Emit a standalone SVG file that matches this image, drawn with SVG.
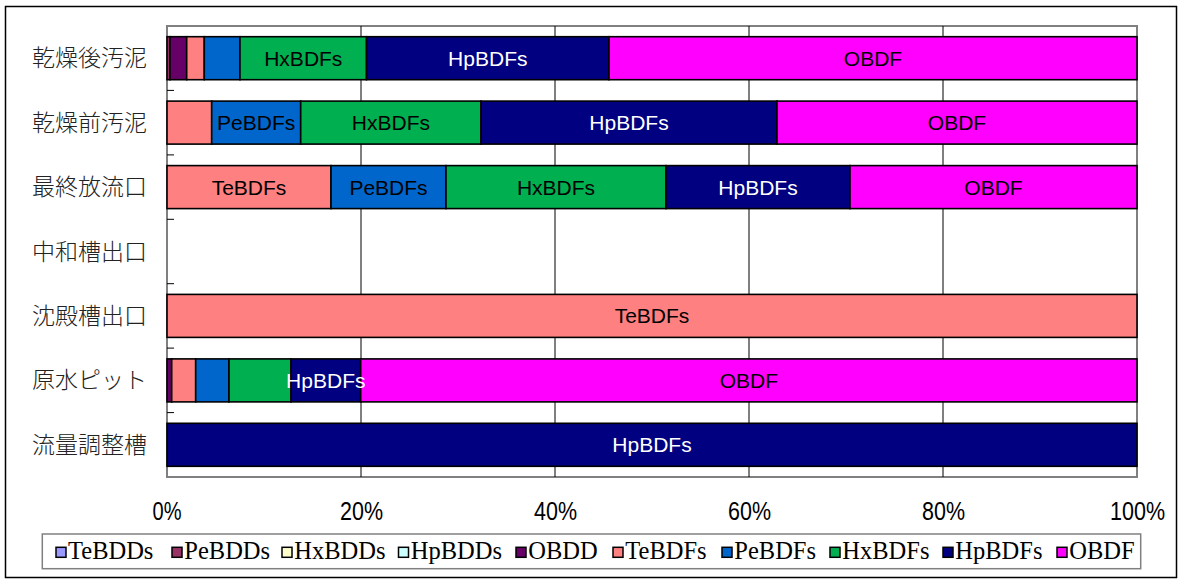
<svg xmlns="http://www.w3.org/2000/svg" width="1180" height="580" viewBox="0 0 1180 580">
  <style>
    .frame { fill: #ffffff; stroke: #000000; stroke-width: 1.5; }
    .plot { fill: #ffffff; stroke: #808080; stroke-width: 2; }
    .grid { stroke: #000000; stroke-width: 1; }
    .tick { stroke: #000000; stroke-width: 1; }
    .seg { stroke: #000000; stroke-width: 1.6; }
    .cat { font-family: "Noto Sans CJK JP", "Noto Sans", sans-serif; font-size: 23px; font-weight: 300; fill: #222222; text-anchor: end; }
    .lbl { font-family: "Liberation Sans", Arial, sans-serif; font-size: 21px; text-anchor: middle; fill: #000000; }
    .lbl.w { fill: #ffffff; }
    .axis { font-family: "Liberation Sans", Arial, sans-serif; font-size: 26px; text-anchor: middle; fill: #000000; }
    .legbox { fill: #ffffff; stroke: #808080; stroke-width: 1.5; }
    .legmark { stroke: #000000; stroke-width: 1.5; }
    .legtxt { font-family: "Liberation Serif", "Times New Roman", serif; font-size: 24.5px; fill: #000000; }
    .c-tebdd { fill: #9999FF; } .c-pebdd { fill: #993366; } .c-hxbdd { fill: #FFFFCC; }
    .c-hpbdd { fill: #CCFFFF; } .c-obdd { fill: #660066; } .c-tebdf { fill: #FF8080; }
    .c-pebdf { fill: #0066CC; } .c-hxbdf { fill: #00B050; } .c-hpbdf { fill: #000080; }
    .c-obdf { fill: #FF00FF; }
  </style>

  <!-- chart frame -->
  <rect class="frame" x="5.5" y="6.5" width="1171" height="571"/>

  <!-- plot area with gridlines -->
  <g id="plot-area">
    <rect class="plot" x="167" y="26" width="970" height="451"/>
    <line class="grid" x1="361" y1="26" x2="361" y2="477"/>
    <line class="grid" x1="555" y1="26" x2="555" y2="477"/>
    <line class="grid" x1="749" y1="26" x2="749" y2="477"/>
    <line class="grid" x1="943" y1="26" x2="943" y2="477"/>
    <line class="tick" x1="167" y1="90.4" x2="174" y2="90.4"/>
    <line class="tick" x1="167" y1="154.9" x2="174" y2="154.9"/>
    <line class="tick" x1="167" y1="219.3" x2="174" y2="219.3"/>
    <line class="tick" x1="167" y1="283.7" x2="174" y2="283.7"/>
    <line class="tick" x1="167" y1="348.1" x2="174" y2="348.1"/>
    <line class="tick" x1="167" y1="412.6" x2="174" y2="412.6"/>
  </g>

  <!-- category labels -->
  <g id="categories">
    <text class="cat" x="147" y="66.2">乾燥後汚泥</text>
    <text class="cat" x="147" y="130.6">乾燥前汚泥</text>
    <text class="cat" x="147" y="195.1">最終放流口</text>
    <text class="cat" x="147" y="259.5">中和槽出口</text>
    <text class="cat" x="147" y="323.9">沈殿槽出口</text>
    <text class="cat" x="147" y="388.4">原水ピット</text>
    <text class="cat" x="147" y="452.8">流量調整槽</text>
  </g>

  <!-- stacked bars -->
  <g id="bar-kansougo">
    <rect class="seg c-pebdd" x="167" y="36.7" width="3" height="43"/>
    <rect class="seg c-obdd" x="170" y="36.7" width="16.7" height="43"/>
    <rect class="seg c-tebdf" x="186.7" y="36.7" width="17.6" height="43"/>
    <rect class="seg c-pebdf" x="204.3" y="36.7" width="35.7" height="43"/>
    <rect class="seg c-hxbdf" x="240" y="36.7" width="126.5" height="43"/>
    <rect class="seg c-hpbdf" x="366.5" y="36.7" width="242.5" height="43"/>
    <rect class="seg c-obdf" x="609" y="36.7" width="528" height="43"/>
    <text class="lbl" x="303.3" y="65.7">HxBDFs</text>
    <text class="lbl w" x="487.8" y="65.7">HpBDFs</text>
    <text class="lbl" x="873" y="65.7">OBDF</text>
  </g>

  <g id="bar-kansouzen">
    <rect class="seg c-tebdf" x="167" y="101.1" width="44.7" height="43"/>
    <rect class="seg c-pebdf" x="211.7" y="101.1" width="89" height="43"/>
    <rect class="seg c-hxbdf" x="300.7" y="101.1" width="180.3" height="43"/>
    <rect class="seg c-hpbdf" x="481" y="101.1" width="296" height="43"/>
    <rect class="seg c-obdf" x="777" y="101.1" width="360" height="43"/>
    <text class="lbl" x="256.2" y="130.1">PeBDFs</text>
    <text class="lbl" x="390.9" y="130.1">HxBDFs</text>
    <text class="lbl w" x="629" y="130.1">HpBDFs</text>
    <text class="lbl" x="957" y="130.1">OBDF</text>
  </g>

  <g id="bar-saishu">
    <rect class="seg c-tebdf" x="167" y="165.6" width="164" height="43"/>
    <rect class="seg c-pebdf" x="331" y="165.6" width="115" height="43"/>
    <rect class="seg c-hxbdf" x="446" y="165.6" width="220" height="43"/>
    <rect class="seg c-hpbdf" x="666" y="165.6" width="184" height="43"/>
    <rect class="seg c-obdf" x="850" y="165.6" width="287" height="43"/>
    <text class="lbl" x="249" y="194.6">TeBDFs</text>
    <text class="lbl" x="388.5" y="194.6">PeBDFs</text>
    <text class="lbl" x="556" y="194.6">HxBDFs</text>
    <text class="lbl w" x="758" y="194.6">HpBDFs</text>
    <text class="lbl" x="993.5" y="194.6">OBDF</text>
  </g>

  <g id="bar-chuwa"></g>

  <g id="bar-chinden">
    <rect class="seg c-tebdf" x="167" y="294.4" width="970" height="43"/>
    <text class="lbl" x="652" y="323.4">TeBDFs</text>
  </g>

  <g id="bar-gensui">
    <rect class="seg c-obdd" x="167" y="358.9" width="4.7" height="43"/>
    <rect class="seg c-tebdf" x="171.7" y="358.9" width="24" height="43"/>
    <rect class="seg c-pebdf" x="195.7" y="358.9" width="33.3" height="43"/>
    <rect class="seg c-hxbdf" x="229" y="358.9" width="62" height="43"/>
    <rect class="seg c-hpbdf" x="291" y="358.9" width="69.7" height="43"/>
    <rect class="seg c-obdf" x="360.7" y="358.9" width="776.3" height="43"/>
    <text class="lbl w" x="325.8" y="387.9">HpBDFs</text>
    <text class="lbl" x="748.8" y="387.9">OBDF</text>
  </g>

  <g id="bar-ryuryo">
    <rect class="seg c-hpbdf" x="167" y="423.3" width="970" height="43"/>
    <text class="lbl w" x="652" y="452.3">HpBDFs</text>
  </g>

  <!-- value axis -->
  <g id="axis-labels">
    <text class="axis" x="167" y="520" textLength="29" lengthAdjust="spacingAndGlyphs">0%</text>
    <text class="axis" x="361.5" y="520" textLength="43" lengthAdjust="spacingAndGlyphs">20%</text>
    <text class="axis" x="555.5" y="520" textLength="43" lengthAdjust="spacingAndGlyphs">40%</text>
    <text class="axis" x="749.5" y="520" textLength="43" lengthAdjust="spacingAndGlyphs">60%</text>
    <text class="axis" x="943.5" y="520" textLength="43" lengthAdjust="spacingAndGlyphs">80%</text>
    <text class="axis" x="1137.5" y="520" textLength="55" lengthAdjust="spacingAndGlyphs">100%</text>
  </g>

  <!-- legend -->
  <g id="legend">
    <rect class="legbox" x="42.3" y="534" width="1098.4" height="34.7"/>
    <rect class="legmark c-tebdd" x="56" y="547.3" width="10" height="10"/>
    <text class="legtxt" x="68" y="559">TeBDDs</text>
    <rect class="legmark c-pebdd" x="172" y="547.3" width="10" height="10"/>
    <text class="legtxt" x="184.3" y="559">PeBDDs</text>
    <rect class="legmark c-hxbdd" x="282" y="547.3" width="10" height="10"/>
    <text class="legtxt" x="294.3" y="559">HxBDDs</text>
    <rect class="legmark c-hpbdd" x="398.5" y="547.3" width="10" height="10"/>
    <text class="legtxt" x="410.8" y="559">HpBDDs</text>
    <rect class="legmark c-obdd" x="516" y="547.3" width="10" height="10"/>
    <text class="legtxt" x="528.3" y="559">OBDD</text>
    <rect class="legmark c-tebdf" x="613" y="547.3" width="10" height="10"/>
    <text class="legtxt" x="625.3" y="559">TeBDFs</text>
    <rect class="legmark c-pebdf" x="722" y="547.3" width="10" height="10"/>
    <text class="legtxt" x="734.3" y="559">PeBDFs</text>
    <rect class="legmark c-hxbdf" x="830" y="547.3" width="10" height="10"/>
    <text class="legtxt" x="842.3" y="559">HxBDFs</text>
    <rect class="legmark c-hpbdf" x="943" y="547.3" width="10" height="10"/>
    <text class="legtxt" x="955.3" y="559">HpBDFs</text>
    <rect class="legmark c-obdf" x="1057" y="547.3" width="10" height="10"/>
    <text class="legtxt" x="1069.3" y="559">OBDF</text>
  </g>
</svg>
